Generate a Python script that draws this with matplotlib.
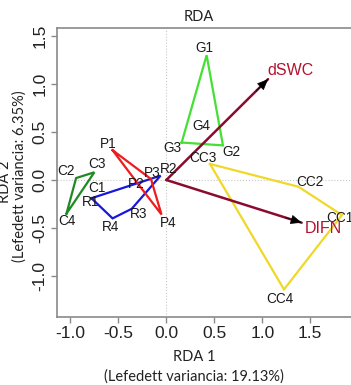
import matplotlib
matplotlib.use("Agg")
import matplotlib.pyplot as plt

plt.rcParams['axes.unicode_minus'] = False

# site scores (RDA1, RDA2) per treatment group
groups = ['C', 'R', 'P', 'G', 'CC']
site_names = {
    'C': ['C1', 'C2', 'C3', 'C4'],
    'R': ['R1', 'R2', 'R3', 'R4'],
    'P': ['P1', 'P2', 'P3', 'P4'],
    'G': ['G1', 'G2', 'G3', 'G4'],
    'CC': ['CC1', 'CC2', 'CC3', 'CC4'],
}
site_x = {
    'C': [-0.88, -0.94, -0.75, -1.04],
    'R': [-0.78, -0.06, -0.36, -0.56],
    'P': [-0.56, -0.28, -0.16, -0.05],
    'G': [0.42, 0.59, 0.16, 0.37],
    'CC': [1.83, 1.375, 0.455, 1.226],
}
site_y = {
    'C': [-0.08, 0.02, 0.08, -0.35],
    'R': [-0.19, 0.045, -0.30, -0.40],
    'P': [0.31, -0.06, 0.01, -0.36],
    'G': [1.30, 0.36, 0.39, 0.50],
    'CC': [-0.365, -0.07, 0.167, -1.14],
}
# environmental vectors
env_names = ['dSWC', 'DIFN']
env_x = [1.06, 1.41]
env_y = [1.05, -0.445]

x_ticks = [-1.0, -0.5, 0.0, 0.5, 1.0, 1.5]
y_ticks = [-1.0, -0.5, 0.0, 0.5, 1.0, 1.5]

# styling / layout
hull_colors = {'C': '#1f8a22', 'R': '#1818dd', 'P': '#ee1c1c', 'G': '#44e034', 'CC': '#f0d828'}
label_offsets = {  # points
    'C1': (11, 0), 'C2': (-7, 5), 'C3': (2, 6), 'C4': (0, -5),
    'R1': (-1, -3), 'R2': (5.5, 4.5), 'R3': (5, -3.5), 'R4': (-1.5, -6),
    'P1': (-3.5, 4.5), 'P2': (-2, 1), 'P3': (1, 4), 'P4': (5, -6),
    'G1': (-1.5, 5), 'G2': (6, -4.5), 'G3': (-7, -4), 'G4': (0, 4),
    'CC1': (-1.5, -2.5), 'CC2': (8.5, 3.5), 'CC3': (-5, 4), 'CC4': (-3, -7),
}
env_offsets = {'dSWC': (16, 6), 'DIFN': (15.5, -4.5)}
arrow_col = '#8b0b2e'
env_text_col = '#b3122e'
side_font = 'Lato'


def hull(pts):
    pts = sorted(set(pts))
    if len(pts) < 3:
        return pts

    def cross(o, a, b):
        return (a[0] - o[0]) * (b[1] - o[1]) - (a[1] - o[1]) * (b[0] - o[0])
    lower, upper = [], []
    for p in pts:
        while len(lower) >= 2 and cross(lower[-2], lower[-1], p) <= 0:
            lower.pop()
        lower.append(p)
    for p in reversed(pts):
        while len(upper) >= 2 and cross(upper[-2], upper[-1], p) <= 0:
            upper.pop()
        upper.append(p)
    return lower[:-1] + upper[:-1]


fig = plt.figure(figsize=(3.51, 3.85), dpi=100)
ax = fig.add_axes([57 / 351, 68.3 / 385, 303 / 351, 289 / 385])
ax.set_xlim(-1.139, 2.018)
ax.set_ylim(-1.424, 1.586)

ax.axhline(0, color='#c8c8c8', lw=0.8, ls=':', zorder=0)
ax.axvline(0, color='#c8c8c8', lw=0.8, ls=':', zorder=0)

for g in groups:
    h = hull(list(zip(site_x[g], site_y[g])))
    h.append(h[0])
    ax.plot([p[0] for p in h], [p[1] for p in h], color=hull_colors[g], lw=1.6,
            solid_joinstyle='miter', zorder=2)
    for n, x, y in zip(site_names[g], site_x[g], site_y[g]):
        ax.annotate(n, (x, y), xytext=label_offsets[n], textcoords='offset points',
                    ha='center', va='center', fontsize=9.8, color='#1a1a1a',
                    family='Liberation Sans', zorder=4)

for n, x, y in zip(env_names, env_x, env_y):
    ax.annotate('', xy=(x, y), xytext=(0, 0),
                arrowprops=dict(arrowstyle='-', color=arrow_col, lw=1.8,
                                shrinkA=0, shrinkB=0), zorder=3)
    ax.annotate('', xy=(x, y), xytext=(x * 0.88, y * 0.88),
                arrowprops=dict(arrowstyle='-|>,head_length=0.7,head_width=0.3',
                                color='black', lw=0.5, shrinkA=0, shrinkB=0), zorder=3)
    ax.annotate(n, (x, y), xytext=env_offsets[n], textcoords='offset points',
                ha='center', va='center', fontsize=11.5, color=env_text_col,
                family='Liberation Sans', zorder=4)

for s in ['top', 'left', 'bottom']:
    ax.spines[s].set_color('#8a8a8a')
    ax.spines[s].set_linewidth(1.2)
ax.spines['right'].set_visible(False)

ax.set_xticks(x_ticks)
ax.set_xticklabels([f'{t:.1f}' for t in x_ticks], family='Liberation Sans', fontsize=12.5)
ax.set_yticks(y_ticks)
ax.set_yticklabels([f'{t:.1f}' for t in y_ticks], family='Liberation Sans', fontsize=12.5,
                   rotation=90, va='center')
ax.tick_params(axis='both', color='#8a8a8a', length=4, width=1, pad=3, labelcolor='#222222')

fig.text(199 / 351, 1 - 17 / 385, 'RDA', ha='center', va='center', fontsize=10.5,
         family=side_font, color='#222222')
fig.text(194 / 351, 1 - 357 / 385, 'RDA 1', ha='center', va='center', fontsize=10.5,
         family=side_font, color='#222222')
fig.text(194 / 351, 1 - 376.5 / 385, '(Lefedett variancia: 19.13%)', ha='center',
         va='center', fontsize=10.5, family=side_font, color='#222222')
fig.text(5 / 351, 1 - 182 / 385, 'RDA 2', ha='center', va='center', fontsize=10.5,
         family=side_font, color='#222222', rotation=90)
fig.text(20 / 351, 1 - 176 / 385, '(Lefedett variancia: 6.35%)', ha='center',
         va='center', fontsize=10.5, family=side_font, color='#222222', rotation=90)

fig.savefig('out.png', dpi=100)
